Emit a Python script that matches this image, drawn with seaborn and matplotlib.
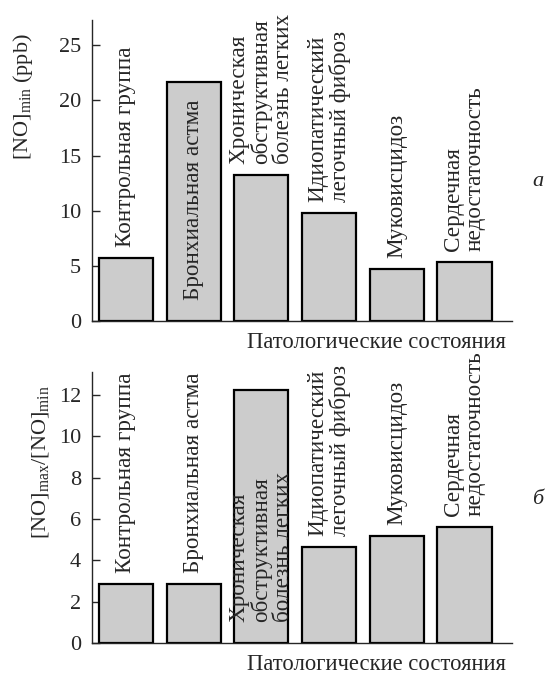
import matplotlib
matplotlib.use("Agg")
import matplotlib.pyplot as plt
import seaborn as sns
import pandas as pd

# Conditions (bar labels, multi-line where wrapped)
conditions = [
    "Контрольная группа",
    "Бронхиальная астма",
    "Хроническая\nобструктивная\nболезнь легких",
    "Идиопатический\nлегочный фиброз",
    "Муковисцидоз",
    "Сердечная\nнедостаточность",
]
# Panel a: minimal NO concentration, ppb
no_min = [5.7, 21.7, 13.2, 9.8, 4.7, 5.35]
# Panel б: ratio of maximal to minimal NO concentration
no_ratio = [2.85, 2.85, 12.25, 4.65, 5.15, 5.6]

yticks_a = [0, 5, 10, 15, 20, 25]
yticks_b = [0, 2, 4, 6, 8, 10, 12]
xlabel = "Патологические состояния"

sns.set_style("ticks")
plt.rcParams["font.family"] = ["Liberation Serif", "DejaVu Serif"]
plt.rcParams["mathtext.fontset"] = "custom"
plt.rcParams["mathtext.rm"] = "Liberation Serif"
plt.rcParams["mathtext.it"] = "Liberation Serif:italic"
plt.rcParams["axes.linewidth"] = 1.0

W, H = 549, 675
fig = plt.figure(figsize=(W / 100, H / 100), dpi=100)

def px_axes(left, top, right, bottom):
    return fig.add_axes([left / W, 1 - bottom / H, (right - left) / W, (bottom - top) / H])

ax_a = px_axes(92, 20, 512, 321)
ax_b = px_axes(92, 372, 512, 643)

FS = 16
FS_BAR = 16.7

def draw_panel(ax, values, ymax, yticks):
    df = pd.DataFrame({"cond": conditions, "val": values})
    sns.barplot(data=df, x="cond", y="val", color="#cccccc", saturation=1,
                edgecolor="black", linewidth=1.6, width=0.8, ax=ax)
    ax.set_xlim(-0.5, 5.7)
    ax.set_ylim(0, ymax)
    ax.set_yticks(yticks)
    ax.set_xticks([])
    ax.set_xlabel("")
    ax.set_ylabel("")
    ax.tick_params(axis="y", direction="in", length=6, width=1.0,
                   labelsize=FS, pad=8)
    for s in ("top", "right"):
        ax.spines[s].set_visible(False)
    for i, (name, v) in enumerate(zip(conditions, values)):
        if v / ymax > 0.7:
            # tall bar: label sits inside, rising from the base
            ax.annotate(name, xy=(i, 0), xytext=(0, 15), textcoords="offset points",
                        rotation=90, ha="center", va="bottom", ma="left",
                        fontsize=FS_BAR, linespacing=1.05)
        else:
            ax.annotate(name, xy=(i, v), xytext=(0, 8), textcoords="offset points",
                        rotation=90, ha="center", va="bottom", ma="left",
                        fontsize=FS_BAR, linespacing=1.05)

draw_panel(ax_a, no_min, 27.3, yticks_a)
draw_panel(ax_b, no_ratio, 13.1, yticks_b)

fig.text(23 / W, 1 - 97 / H, r"$[\mathrm{NO}]_{\mathrm{min}}$ (ppb)", rotation=90,
         ha="center", va="center", fontsize=FS)
fig.text(41 / W, 1 - 462 / H, r"$[\mathrm{NO}]_{\mathrm{max}}/[\mathrm{NO}]_{\mathrm{min}}$",
         rotation=90, ha="center", va="center", fontsize=FS)

fig.text(376 / W, 1 - 342 / H, xlabel, ha="center", va="center", fontsize=16.3)
fig.text(376 / W, 1 - 665 / H, xlabel, ha="center", va="center", fontsize=16.3)

fig.text(538 / W, 1 - 182 / H, "а", ha="center", va="center", fontsize=FS, style="italic")
fig.text(538 / W, 1 - 500 / H, "б", ha="center", va="center", fontsize=FS, style="italic")

fig.savefig("out.png", dpi=100, facecolor="white")
